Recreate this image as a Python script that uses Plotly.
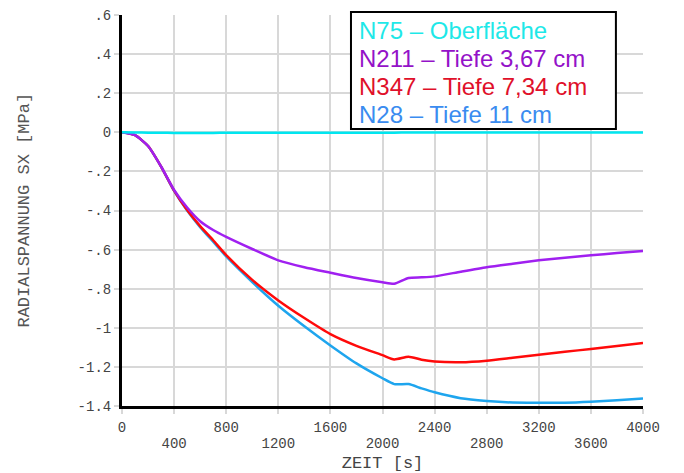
import plotly.graph_objects as go

# Time steps [s]
zeit = [0, 100, 200, 300, 400, 500, 600, 700, 800, 1000, 1200, 1400, 1600, 1800,
        2000, 2090, 2200, 2300, 2400, 2600, 2800, 3000, 3200, 3400, 3600, 3800, 4000]

# Radial stress SX [MPa] per node
n75 = [0, -0.001, -0.002, -0.002, -0.003, -0.003, -0.003, -0.003, -0.002, -0.002, -0.002, -0.002, -0.002, -0.002,
       -0.002, -0.002, -0.001, -0.001, -0.001, -0.001, -0.001, -0.001, -0.001, -0.001, -0.001, -0.001, -0.001]
n211 = [0, -0.015, -0.07, -0.175, -0.295, -0.385, -0.455, -0.50, -0.535, -0.597, -0.655, -0.69, -0.718, -0.745,
        -0.767, -0.775, -0.745, -0.742, -0.737, -0.713, -0.69, -0.672, -0.655, -0.642, -0.629, -0.618, -0.607]
n347 = [0, -0.015, -0.07, -0.175, -0.298, -0.398, -0.48, -0.552, -0.628, -0.755, -0.86, -0.95, -1.032, -1.092,
        -1.14, -1.162, -1.148, -1.163, -1.172, -1.176, -1.168, -1.153, -1.138, -1.123, -1.108, -1.093, -1.078]
n28 = [0, -0.015, -0.07, -0.175, -0.30, -0.40, -0.485, -0.56, -0.635, -0.766, -0.887, -0.992, -1.09, -1.182,
       -1.258, -1.288, -1.288, -1.31, -1.33, -1.36, -1.374, -1.382, -1.383, -1.383, -1.378, -1.37, -1.362]

names = ["N75 – Oberfläche", "N211 – Tiefe 3,67 cm", "N347 – Tiefe 7,34 cm", "N28 – Tiefe 11 cm"]
series = [n75, n211, n347, n28]
line_colors = ["#00e6f0", "#a020f0", "#ff0a0a", "#1ea5ee"]
text_colors = ["#1ee8e8", "#9412c8", "#e0102a", "#3a8cf0"]

x_ticks = [0, 400, 800, 1200, 1600, 2000, 2400, 2800, 3200, 3600, 4000]
x_upper = x_ticks[0::2]   # labelled on the first row
x_lower = x_ticks[1::2]   # labelled on the second row
y_ticks = [0.6, 0.4, 0.2, 0, -0.2, -0.4, -0.6, -0.8, -1.0, -1.2, -1.4]
y_ticktext = [".6", ".4", ".2", "0", "-.2", "-.4", "-.6", "-.8", "-1", "-1.2", "-1.4"]

fig = go.Figure()
# draw deepest node first so the surface line stays on top
for name, ys, col in reversed(list(zip(names, series, line_colors))):
    fig.add_trace(go.Scatter(x=zeit, y=ys, mode="lines", name=name,
                             line=dict(color=col, width=2.5, shape="spline", smoothing=0.6),
                             showlegend=False))

# invisible helper trace so the second tick-label row gets drawn
fig.add_trace(go.Scatter(x=[x_ticks[0], x_ticks[-1]], y=[None, None], xaxis="x2",
                         mode="lines", showlegend=False, hoverinfo="skip"))

mono = "Liberation Mono, Courier New, monospace"
txt = "#444444"
grid = "#d8d8d8"
fig.update_layout(
    width=684, height=473,
    margin=dict(l=122, r=41, t=15, b=67),
    paper_bgcolor="white", plot_bgcolor="white",
    font=dict(family=mono, size=14, color=txt),
    xaxis=dict(range=[0, 4000], tickvals=x_ticks,
               ticktext=[str(v) if v in x_upper else "" for v in x_ticks],
               showgrid=True, gridcolor=grid, gridwidth=1.5,
               showline=True, linecolor="black", linewidth=3,
               ticks="outside", ticklen=5, tickcolor=grid, tickwidth=1.5,
               ticklabelstandoff=1, zeroline=False, automargin=False,
               title=dict(text="ZEIT [s]", font=dict(family=mono, size=17, color=txt), standoff=22)),
    # second label row for the staggered time ticks (long transparent ticks push it down)
    xaxis2=dict(range=[0, 4000], overlaying="x", side="bottom", anchor="y",
                tickvals=x_lower, ticktext=[str(v) for v in x_lower],
                showgrid=False, showline=False, zeroline=False,
                ticks="outside", ticklen=24, tickcolor="rgba(0,0,0,0)",
                automargin=False),
    yaxis=dict(range=[-1.4, 0.6], tickvals=y_ticks, ticktext=y_ticktext,
               showgrid=True, gridcolor=grid, gridwidth=1.5,
               showline=True, linecolor="black", linewidth=3,
               ticks="outside", ticklen=5, tickcolor=grid, tickwidth=1.5,
               zeroline=False, automargin=False),
)

# rotated y-axis title
fig.add_annotation(text="RADIALSPANNUNG SX [MPa]", textangle=-90,
                   xref="paper", yref="paper", x=-0.188, y=0.5,
                   xanchor="center", yanchor="middle", showarrow=False,
                   font=dict(family=mono, size=17, color="#555555"))

# legend box with coloured entries
fig.add_shape(type="rect", xref="paper", yref="paper",
              x0=0.4395, x1=0.948, y0=0.7084, y1=1.0077,
              line=dict(color="black", width=2), fillcolor="white", layer="above")
for i, (name, col) in enumerate(zip(names, text_colors)):
    fig.add_annotation(text=name, xref="paper", yref="paper",
                       x=0.452, y=(406 - 30 - 28.3 * i) / 391,
                       xanchor="left", yanchor="middle", showarrow=False,
                       font=dict(family="Liberation Sans, Arial, sans-serif", size=24, color=col))

fig.write_html("out.html")
